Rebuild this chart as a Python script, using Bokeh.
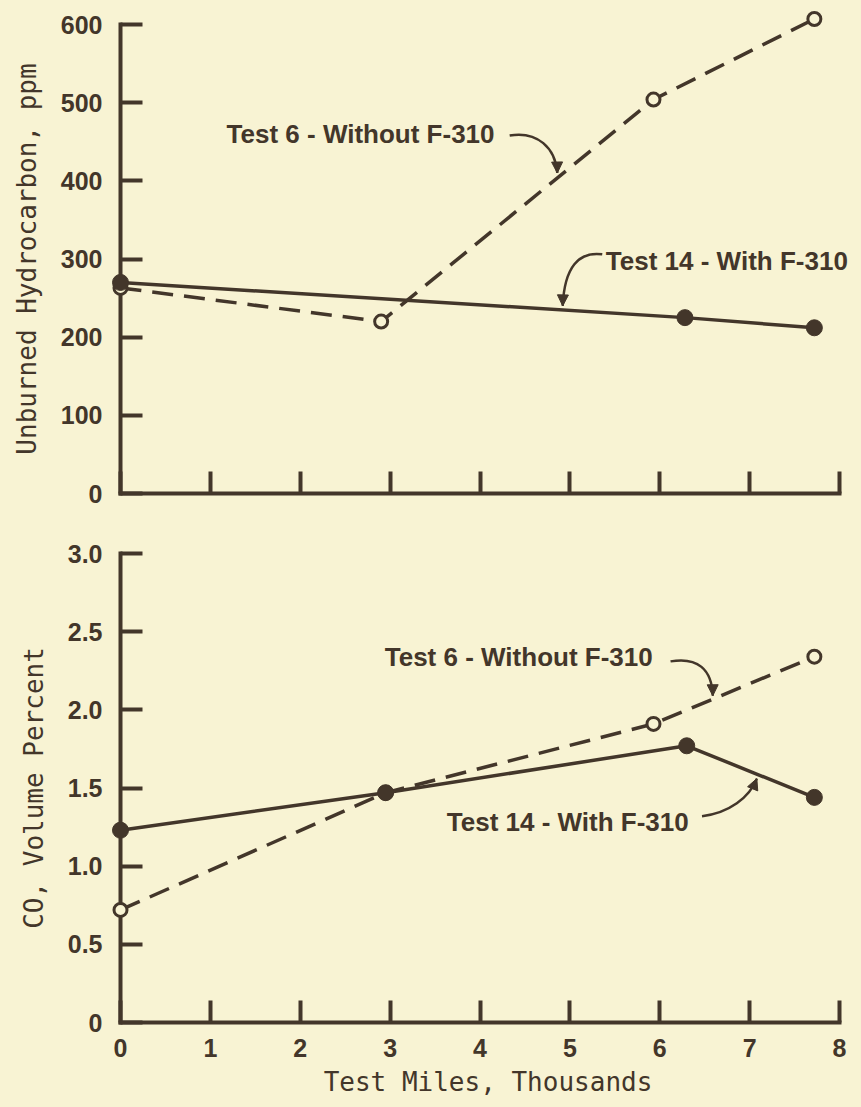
from bokeh.plotting import figure
from bokeh.layouts import column
from bokeh.models import Range1d, FixedTicker, CustomJSTickFormatter, Label, Arrow, NormalHead
from bokeh.embed import file_html
from bokeh.resources import INLINE

# ---------------- data ----------------
mile_ticks = [0, 1, 2, 3, 4, 5, 6, 7, 8]
hc_ticks = [0, 100, 200, 300, 400, 500, 600]
co_ticks = [0, 0.5, 1.0, 1.5, 2.0, 2.5, 3.0]

# Upper panel: unburned hydrocarbon, ppm
hc_test6_miles = [0, 2.9, 5.93, 7.72]
hc_test6_ppm = [263, 220, 504, 607]
hc_test14_miles = [0, 6.28, 7.72]
hc_test14_ppm = [270, 225, 212]

# Lower panel: CO, volume percent
co_test6_miles = [0, 2.95, 5.93, 7.72]
co_test6_pct = [0.72, 1.47, 1.91, 2.34]
co_test14_miles = [0, 2.95, 6.3, 7.72]
co_test14_pct = [1.23, 1.47, 1.77, 1.44]

label_test6 = "Test 6 - Without F-310"
label_test14 = "Test 14 - With F-310"

# ---------------- style ----------------
BG = "#f8f3d3"
INK = "#43362a"
TICK_FONT = "Liberation Sans"
TITLE_FONT = "DejaVu Sans Mono"
W = 861
X_END = 8 + 16 / 90.0          # room right of the axis end for the callout text
FRAME_W = 735


def make_fig(height, yr, top, bottom, yticks):
    p = figure(width=W, height=height, x_range=Range1d(0, X_END), y_range=Range1d(*yr),
               output_backend="svg", toolbar_location=None,
               min_border_left=120, min_border_right=W - 120 - FRAME_W,
               min_border_top=top, min_border_bottom=bottom)
    p.background_fill_color = BG
    p.border_fill_color = BG
    p.outline_line_color = None
    p.grid.visible = False
    p.xaxis.ticker = FixedTicker(ticks=mile_ticks)
    p.xaxis.bounds = (0, 8)
    p.yaxis.ticker = FixedTicker(ticks=yticks)
    for ax in p.axis:
        ax.axis_line_width = 4
        ax.axis_line_color = INK
        ax.axis_line_cap = "square"
        ax.major_tick_in = 22
        ax.major_tick_out = 0
        ax.major_tick_line_width = 4
        ax.major_tick_line_color = INK
        ax.minor_tick_line_color = None
        ax.major_label_text_font = TICK_FONT
        ax.major_label_text_font_size = "25px"
        ax.major_label_text_font_style = "bold"
        ax.major_label_text_color = INK
        ax.axis_label_text_font = TITLE_FONT
        ax.axis_label_text_font_size = "26px"
        ax.axis_label_text_font_style = "normal"
        ax.axis_label_text_color = INK
    p.yaxis.major_label_standoff = 18
    p.yaxis.axis_label_standoff = 16
    return p


def draw_series(p, x6, y6, x14, y14):
    p.line(x6, y6, line_width=3.5, color=INK, line_dash="21 11", level="overlay")
    p.line(x14, y14, line_width=3.5, color=INK, level="overlay")
    p.scatter(x6, y6, size=13, marker="circle", fill_color=BG, line_color=INK,
              line_width=3, level="overlay")
    p.scatter(x14, y14, size=16, marker="circle", fill_color=INK, line_color=INK,
              level="overlay")


def callout(p, text, tx, ty, curve, head_from):
    p.add_layout(Label(x=tx, y=ty, text=text, text_font=TICK_FONT, text_font_size="26px",
                       text_font_style="bold", text_color=INK,
                       text_baseline="middle", text_align="left"))
    (x0, y0), (cx0, cy0), (cx1, cy1), (x1, y1) = curve
    p.bezier(x0=[x0], y0=[y0], cx0=[cx0], cy0=[cy0], cx1=[cx1], cy1=[cy1],
             x1=[x1], y1=[y1], line_width=2.5, line_color=INK, level="overlay")
    hx, hy = head_from
    p.add_layout(Arrow(x_start=hx, y_start=hy, x_end=x1, y_end=y1, line_alpha=0,
                       end=NormalHead(size=11, fill_color=INK, line_color=INK)))


# ---------------- upper panel ----------------
p1 = make_fig(528, (0, 600), 24, 35, hc_ticks)
p1.yaxis.axis_label = "Unburned Hydrocarbon, ppm"
p1.xaxis.formatter = CustomJSTickFormatter(code="return ''")
draw_series(p1, hc_test6_miles, hc_test6_ppm, hc_test14_miles, hc_test14_ppm)
callout(p1, label_test6, 1.18, 460,
        [(4.33, 458), (4.64, 464), (4.84, 442), (4.86, 410)], (4.855, 440))
callout(p1, label_test14, 5.40, 298,
        [(5.36, 306), (5.10, 310), (4.94, 290), (4.92, 240)], (4.925, 270))

# ---------------- lower panel ----------------
p2 = make_fig(574, (0, 3), 25, 80, co_ticks)
p2.yaxis.axis_label = "CO, Volume Percent"
p2.xaxis.axis_label = "Test Miles, Thousands"
p2.yaxis.formatter = CustomJSTickFormatter(code="return tick == 0 ? '0' : tick.toFixed(1)")
p2.xaxis.major_label_standoff = 16
p2.xaxis.axis_label_standoff = 7
draw_series(p2, co_test6_miles, co_test6_pct, co_test14_miles, co_test14_pct)
callout(p2, label_test6, 2.94, 2.335,
        [(6.12, 2.31), (6.42, 2.34), (6.58, 2.26), (6.59, 2.09)], (6.588, 2.2))
callout(p2, label_test14, 3.63, 1.28,
        [(6.47, 1.32), (6.77, 1.34), (7.00, 1.44), (7.08, 1.56)], (7.03, 1.49))

layout = column(p1, p2, spacing=0)
html = file_html(layout, INLINE, title="Hydrocarbon and CO vs test miles")
html = html.replace("</head>",
                    "<style>html, body { background-color: %s; }</style></head>" % BG, 1)
open("out.html", "w").write(html)
